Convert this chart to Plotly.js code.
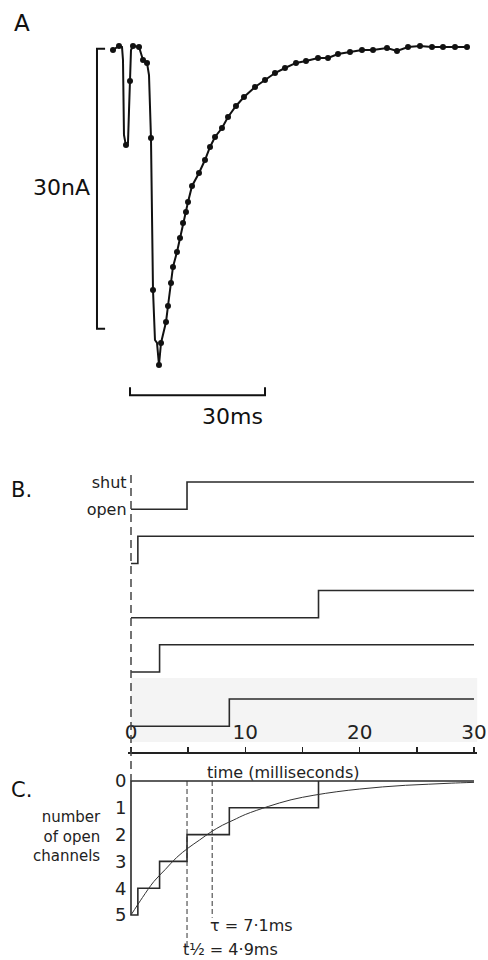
<!DOCTYPE html>
<html>
<head>
<meta charset="utf-8">
<script src="https://cdn.plot.ly/plotly-3.0.1.min.js"></script>
<style>html,body{margin:0;padding:0;background:#fff;}#chart{width:488px;height:960px;}</style>
</head>
<body>
<div id="chart"></div>
<script>
// ---------- Panel A: membrane current (time in ms, current in nA) ----------
const fastT = [-0.44, 0, 1.33, 2.0, 2.22, 2.44, 2.89, 3.33, 3.56, 3.78, 4.0, 4.44, 5.78, 6.67, 7.56, 8.0, 8.44, 8.89, 9.33, 9.78, 10.22];
const fastI = [-0.43, -0.32, 0.11, 0, -1.39, -9.43, -10.61, -10.29, -6.75, -3.64, -0.32, 0.11, 0, -1.39, -1.71, -3.0, -9.75, -26.04, -31.39, -31.71, -34.07];
const earlyDotT = [0, 1.33, 2.89, 3.78, 4.44, 5.78, 6.67, 7.56, 8.44, 8.89, 10.22];
const earlyDotI = [-0.32, 0.11, -10.5, -3.64, 0.11, 0, -1.39, -1.71, -9.75, -26.04, -34.07];
const decayT = [10.67, 11.78, 12.22, 12.89, 13.33, 14.22, 14.89, 15.56, 16.22, 16.67, 17.56, 19.11, 20.44, 21.56, 22.67, 24.22, 25.56, 27.33, 29.11, 31.56, 33.78, 36.0, 38.22, 40.67, 42.89, 45.56, 47.78, 50.0, 52.67, 55.33, 57.78, 60.89, 63.11, 65.56, 68.22, 70.89, 73.33, 76.0, 78.67];
const decayI = [-31.71, -29.46, -27.75, -25.29, -23.57, -21.96, -20.46, -18.86, -17.68, -16.61, -14.89, -13.5, -12.11, -10.71, -9.64, -8.68, -7.5, -6.32, -5.36, -4.29, -3.54, -2.79, -2.25, -1.71, -1.5, -1.18, -1.18, -0.75, -0.54, -0.32, -0.32, -0.11, -0.43, 0, 0.11, 0, 0, 0, 0];
const scaleBarMs = 30;   // ms
const scaleBarNA = 30;   // nA

// ---------- Panel B: single-channel open times (ms) ----------
const openTimes = [4.9, 0.6, 16.4, 2.5, 8.6];
const stateTickVals = [0, 1];
const stateTickText = ['open', 'shut'];
const timeTickVals = [0, 10, 20, 30];
const timeTickText = ['0', '10', '20', '30'];
const tEnd = 30;

// ---------- Panel C: number of open channels ----------
const curveT = [0, 1, 2, 3, 4, 5, 6, 7, 8, 9, 10, 12, 14, 16, 18, 20, 22, 24, 26, 28, 30];
const curveN = [5, 4.35, 3.75, 3.3, 2.85, 2.5, 2.2, 1.9, 1.65, 1.45, 1.25, 0.95, 0.7, 0.53, 0.4, 0.3, 0.22, 0.16, 0.12, 0.08, 0.05];
const channelTicks = [0, 1, 2, 3, 4, 5];
const tHalf = 4.9;
const tau = 7.1;

// Panel A traces
const traces = [];
traces.push({x: fastT.concat(decayT), y: fastI.concat(decayI), xaxis: 'x2', yaxis: 'y', mode: 'lines',
  line: {color: '#111', width: 2}, hoverinfo: 'skip'});
traces.push({x: earlyDotT.concat(decayT), y: earlyDotI.concat(decayI), xaxis: 'x2', yaxis: 'y', mode: 'markers',
  marker: {color: '#111', size: 6}, hoverinfo: 'skip'});

// Panel B traces (0 = open, 1 = shut)
openTimes.forEach((t, k) => {
  traces.push({x: [0, t, t, tEnd], y: [0, 0, 1, 1], xaxis: 'x', yaxis: 'y' + (k + 2), mode: 'lines',
    line: {color: '#2a2a2a', width: 1.6}, hoverinfo: 'skip'});
});

// Panel C staircase built from sorted open times
const sorted = openTimes.slice().sort((a, b) => a - b);
const stX = [tEnd, 0, 0], stY = [0, 0, sorted.length];
sorted.forEach((t, i) => { stX.push(t, t); stY.push(sorted.length - i, sorted.length - i - 1); });
traces.push({x: stX, y: stY, xaxis: 'x', yaxis: 'y7', mode: 'lines', line: {color: '#2a2a2a', width: 1.6}, hoverinfo: 'skip'});
traces.push({x: curveT, y: curveN, xaxis: 'x', yaxis: 'y7', mode: 'lines', line: {color: '#333', width: 1, shape: 'spline'}, hoverinfo: 'skip'});

const F = 'DejaVu Sans, sans-serif';
const bDomains = [[0.45547, 0.51198], [0.39896, 0.45547], [0.34245, 0.39896], [0.28594, 0.34245], [0.22943, 0.28594]];

const layout = {
  width: 488, height: 960, margin: {l: 0, r: 0, t: 0, b: 0},
  paper_bgcolor: '#fff', plot_bgcolor: 'rgba(0,0,0,0)', showlegend: false,
  font: {family: F, color: '#222'},
  xaxis2: {domain: [0.18443, 0.98361], range: [-5.111, 81.556], visible: false, anchor: 'y', fixedrange: true},
  yaxis: {domain: [0.55208, 0.96875], range: [-41.036, 1.821], visible: false, anchor: 'x2', fixedrange: true},
  xaxis: {domain: [0.26141, 0.97834], range: [-0.3, 30.3], anchor: 'free', position: 0.215625, side: 'top',
    showline: true, linecolor: '#222', linewidth: 2, ticks: 'outside', ticklen: 5, tickwidth: 1.5, tickcolor: '#222',
    tickvals: timeTickVals, ticktext: timeTickText, tickfont: {size: 20, family: F, color: '#222'},
    minor: {tickvals: [5, 15, 25], ticks: 'outside', ticklen: 5, tickwidth: 1.5, tickcolor: '#222', showgrid: false},
    showgrid: false, zeroline: false, fixedrange: true},
  yaxis7: {domain: [0.00208, 0.20833], range: [6.604, -0.784], anchor: 'x', tickvals: channelTicks,
    ticks: '', showline: false, showgrid: false, zeroline: false, tickfont: {size: 18, family: F, color: '#222'}, fixedrange: true},
  shapes: [], annotations: []
};
bDomains.forEach((d, k) => {
  const ax = {domain: d, range: [-0.5, 1.5], anchor: 'x', showgrid: false, zeroline: false, showline: false, ticks: '', fixedrange: true};
  if (k === 0) { ax.tickvals = stateTickVals; ax.ticktext = stateTickText; ax.tickfont = {size: 16, family: F, color: '#222'}; }
  else { ax.showticklabels = false; }
  layout['yaxis' + (k + 2)] = ax;
});

// faint background band in B (scan tone)
layout.shapes.push({type: 'rect', xref: 'x', yref: 'paper', x0: 0, x1: 30.3, y0: 1 - 742 / 960, y1: 1 - 678 / 960,
  fillcolor: '#f4f4f4', line: {width: 0}, layer: 'below'});
// dashed t=0 line through B
layout.shapes.push({type: 'line', xref: 'x', yref: 'paper', x0: 0, x1: 0, y0: 1 - 475 / 960, y1: 1 - 781 / 960,
  line: {color: '#444', width: 1.5, dash: '8px,5px'}});
// dashed lines in C
layout.shapes.push({type: 'line', xref: 'x', yref: 'y7', x0: tHalf, x1: tHalf, y0: 0, y1: 6.2, line: {color: '#333', width: 1, dash: '5px,3px'}});
layout.shapes.push({type: 'line', xref: 'x', yref: 'y7', x0: tau, x1: tau, y0: 0, y1: 5.1, line: {color: '#333', width: 1, dash: '5px,3px'}});

// Scale bars in A
const msX0 = 3.78, msY = -37.3, tickUp = 0.85;
layout.shapes.push({type: 'path', xref: 'x2', yref: 'y',
  path: `M ${msX0} ${msY + tickUp} L ${msX0} ${msY} L ${msX0 + scaleBarMs} ${msY} L ${msX0 + scaleBarMs} ${msY + tickUp}`,
  line: {color: '#111', width: 2}});
const naX = -3.56, naY0 = -0.2, tickR = 1.8;
layout.shapes.push({type: 'path', xref: 'x2', yref: 'y',
  path: `M ${naX + tickR} ${naY0} L ${naX} ${naY0} L ${naX} ${naY0 - scaleBarNA} L ${naX + tickR} ${naY0 - scaleBarNA}`,
  line: {color: '#111', width: 2}});

const ann = (o) => layout.annotations.push(Object.assign({showarrow: false, font: {family: F, size: 16, color: '#222'}}, o));
ann({text: 'A', xref: 'paper', yref: 'paper', x: 12 / 488, y: 1 - 23 / 960, xanchor: 'left', yanchor: 'middle', font: {family: F, size: 23, color: '#111'}});
ann({text: '30nA', xref: 'paper', yref: 'paper', x: 92 / 488, y: 1 - 188 / 960, xanchor: 'right', yanchor: 'middle', font: {family: F, size: 22, color: '#111'}});
ann({text: '30ms', xref: 'paper', yref: 'paper', x: 232 / 488, y: 1 - 417 / 960, xanchor: 'center', yanchor: 'middle', font: {family: F, size: 22, color: '#111'}});
ann({text: 'B.', xref: 'paper', yref: 'paper', x: 9 / 488, y: 1 - 490 / 960, xanchor: 'left', yanchor: 'middle', font: {family: F, size: 21, color: '#111'}});
ann({text: 'C.', xref: 'paper', yref: 'paper', x: 9 / 488, y: 1 - 790 / 960, xanchor: 'left', yanchor: 'middle', font: {family: F, size: 21, color: '#111'}});
ann({text: 'time (milliseconds)', xref: 'x', yref: 'paper', x: 13.3, y: 1 - 772 / 960, xanchor: 'center', yanchor: 'middle', font: {family: F, size: 16, color: '#222'}});
ann({text: 'number<br>of open<br>channels', xref: 'paper', yref: 'paper', x: 103 / 488, y: 1 - 836 / 960, xanchor: 'right', yanchor: 'middle', align: 'right', font: {family: F, size: 15, color: '#222'}});
ann({text: 'τ = 7·1ms', xref: 'x', yref: 'paper', x: 6.7, y: 1 - 925 / 960, xanchor: 'left', yanchor: 'middle', font: {family: F, size: 16, color: '#222'}});
ann({text: 't½ = 4·9ms', xref: 'x', yref: 'paper', x: 4.4, y: 1 - 949 / 960, xanchor: 'left', yanchor: 'middle', font: {family: F, size: 16, color: '#222'}});

Plotly.newPlot('chart', traces, layout, {staticPlot: true, displayModeBar: false});
</script>
</body>
</html>
